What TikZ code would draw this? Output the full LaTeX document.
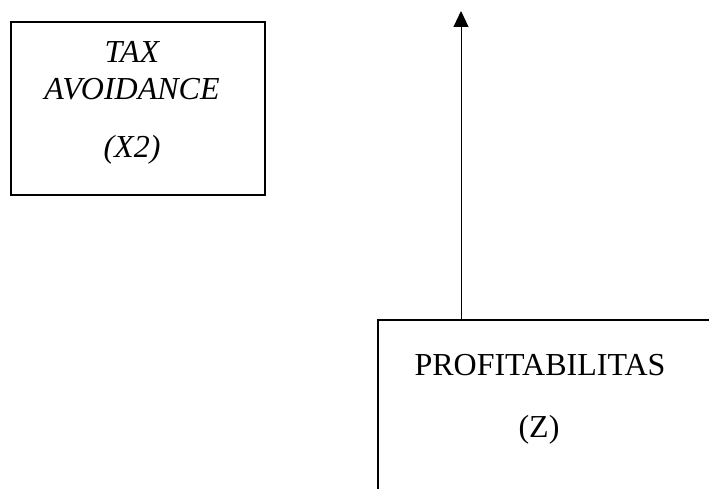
\documentclass[tikz,border=0pt]{standalone}
\usepackage{fontspec}
\setmainfont{Liberation Serif}
\usetikzlibrary{arrows.meta}
\begin{document}
\begin{tikzpicture}[x=1pt,y=1pt,
  boxstyle/.style={draw=black,line width=2pt,inner sep=0pt},
  lbl/.style={anchor=base,inner sep=0pt,font=\fontsize{32}{38}\selectfont},
  ilbl/.style={lbl,font=\fontsize{32}{38}\selectfont\itshape}]
\clip (0,0) rectangle (709,-489);
\fill[white] (0,0) rectangle (709,-489);
% box 1
\node[boxstyle,minimum width=254pt,minimum height=173pt] (box1) at (138,-108.5) {};
\node[ilbl] (t1) at (132,-63) {TAX};
\node[ilbl] (t2) at (132,-100) {AVOIDANCE};
\node[ilbl] (t3) at (132,-158) {(X2)};
% box 2 (extends past the page edges)
\node[boxstyle,minimum width=400pt,minimum height=250pt] (box2) at (578,-445) {};
\node[lbl] (t4) at (540,-375) {PROFITABILITAS};
\node[lbl] (t5) at (539,-437) {(Z)};
% arrow
\coordinate (tip) at (461,-11);
\draw[line width=1pt,-{Triangle[length=16pt,width=15pt]}] (box2.north -| tip) -- (tip);
\end{tikzpicture}
\end{document}
